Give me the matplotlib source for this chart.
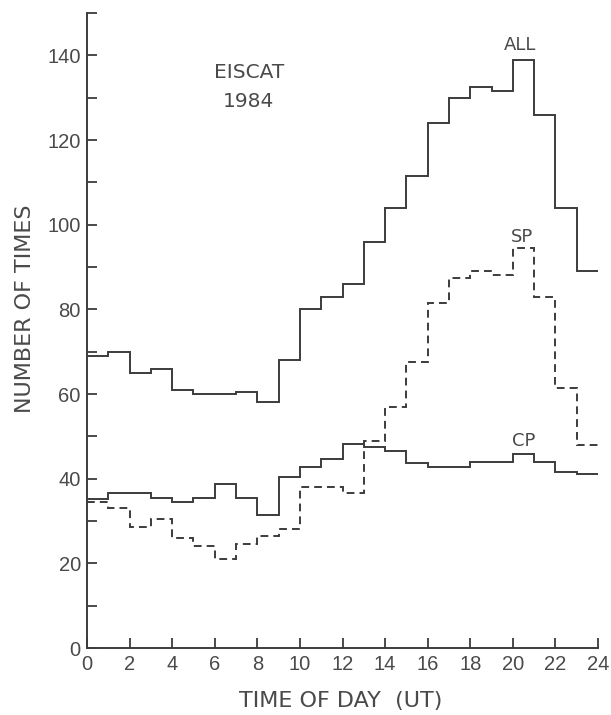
import numpy as np
import matplotlib
matplotlib.use("Agg")
import matplotlib.pyplot as plt
from matplotlib import font_manager
from matplotlib.ticker import MultipleLocator

# ---- data ----
hour_edges = list(range(0, 25))
all_counts = [69, 70, 65, 66, 61, 60, 60, 60.5, 58, 68, 80, 83, 86, 96,
              104, 111.5, 124, 130, 132.5, 131.5, 139, 126, 104, 89]
sp_counts = [34.5, 33, 28.5, 30.5, 26, 24, 21, 24.5, 26.5, 28, 38, 38, 36.5, 49,
             57, 67.5, 81.5, 87.5, 89, 88, 94.5, 83, 61.5, 48]
cp_counts = [35.3, 36.5, 36.5, 35.5, 34.5, 35.5, 38.7, 35.5, 31.5, 40.5, 42.7, 44.7,
             48.2, 47.5, 46.5, 43.7, 42.7, 42.7, 43.9, 43.9, 45.9, 43.9, 41.5, 41]
x_ticks = [0, 2, 4, 6, 8, 10, 12, 14, 16, 18, 20, 22, 24]
y_ticks = [0, 20, 40, 60, 80, 100, 120, 140]

def pick(fams):
    for f in fams:
        try:
            font_manager.findfont(f, fallback_to_default=False)
            return f
        except Exception:
            pass
    return "DejaVu Sans"

narrow = pick(["Liberation Sans Narrow", "DejaVu Sans Condensed", "Liberation Sans"])
regular = pick(["DejaVu Sans"])

ink = "#3c3c3c"
txt = "#4a4a4a"

fig = plt.figure(figsize=(6.11, 7.15), dpi=100)
ax = fig.add_axes([87/611, 1 - 648/715, (598-87)/611, (648-13)/715])

lw = 1.4
ax.stairs(all_counts, hour_edges, baseline=None, color=ink, linewidth=lw)
ax.stairs(cp_counts, hour_edges, baseline=None, color=ink, linewidth=lw)
ax.stairs(sp_counts, hour_edges, baseline=None, color=ink, linewidth=lw,
          linestyle=(0, (4, 2.6)))

ax.set_xlim(0, 24)
ax.set_ylim(0, 150)
for s in ["top", "right"]:
    ax.spines[s].set_visible(False)
for s in ["left", "bottom"]:
    ax.spines[s].set_linewidth(1.4)
    ax.spines[s].set_color(ink)

ax.set_xticks(x_ticks)
ax.set_yticks(y_ticks)
ax.yaxis.set_minor_locator(MultipleLocator(10))
ax.tick_params(axis="both", which="both", direction="in", length=7, width=1.3,
               color=ink, labelcolor=txt, labelsize=14.5, pad=4.5)
ax.tick_params(axis="x", pad=5)
for lab in ax.get_xticklabels() + ax.get_yticklabels():
    lab.set_fontfamily(narrow)

ax.set_xlabel("TIME OF DAY  (UT)", fontsize=16, color=txt, family=regular)
ax.set_ylabel("NUMBER OF TIMES", fontsize=16, color=txt, family=regular)
ax.xaxis.label.set_va("center")
ax.yaxis.label.set_va("center")
ax.xaxis.set_label_coords(0.497, -0.083)
ax.yaxis.set_label_coords(-0.121, 0.535)

ax.text(20.35, 140.3, "ALL", ha="center", va="bottom", fontsize=13, color=txt,
        family=regular)
ax.text(20.45, 95.0, "SP", ha="center", va="bottom", fontsize=13, color=txt,
        family=regular)
ax.text(20.5, 46.8, "CP", ha="center", va="bottom", fontsize=13, color=txt,
        family=regular)
ax.text(7.6, 136, "EISCAT", ha="center", va="center", fontsize=14.5, color=txt,
        family=regular)
ax.text(7.6, 129, "1984", ha="center", va="center", fontsize=14.5, color=txt,
        family=regular)

fig.savefig("out.png", dpi=100)
